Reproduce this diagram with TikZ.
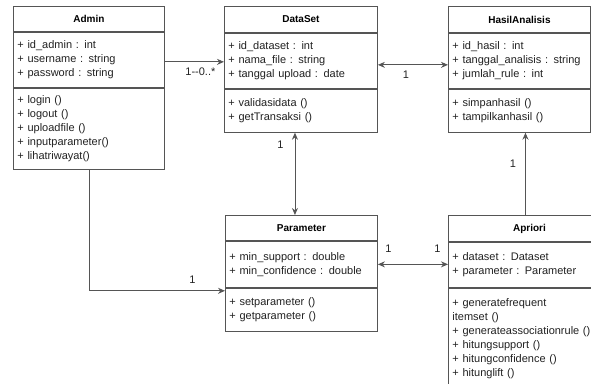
\documentclass[tikz,border=0pt]{standalone}
\usepackage{fontspec}
\setmainfont{Liberation Sans}
\usetikzlibrary{positioning, arrows.meta}

\definecolor{linegray}{HTML}{555555}
\definecolor{textgray}{HTML}{222222}

\tikzset{
  classtitle/.style 2 args={draw=linegray, fill=white, minimum width=#1, minimum height=#2,
    inner sep=0pt, font=\bfseries, text=black, anchor=north west},
  classpart/.style 2 args={draw=linegray, fill=white, text width=#1-8pt, inner xsep=4pt,
    inner ysep=0pt, minimum height=#2, align=left, text=textgray},
  mult/.style={text=textgray, inner sep=1pt},
}

\begin{document}
\begin{tikzpicture}[x=1pt,y=-1pt,line width=0.9pt,>={Stealth[length=7pt,width=6pt]},
  font=\fontsize{11}{14}\selectfont]

    \clip (0,0) rectangle (591,383);

    % Admin
    \node[classtitle={151pt}{25pt}] (admin) at (13,6) {Admin};
    \node[classpart={151pt}{55pt}, below=0pt of admin] (adminattr)
      {+ id\_admin : int\\+ username : string\\+ password : string};
    \node[classpart={151pt}{81pt}, below=0pt of adminattr] (adminmeth)
      {+ login ()\\+ logout ()\\+ uploadfile ()\\+ inputparameter()\\+ lihatriwayat()};

    % DataSet
    \node[classtitle={153pt}{26pt}] (dataset) at (224,6) {DataSet};
    \node[classpart={153pt}{55pt}, below=0pt of dataset] (dsattr)
      {+ id\_dataset : int\\+ nama\_file : string\\+ tanggal upload : date};
    \node[classpart={153pt}{43pt}, below=0pt of dsattr] (dsmeth)
      {+ validasidata ()\\+ getTransaksi ()};

    % HasilAnalisis
    \node[classtitle={142pt}{26pt}] (hasil) at (448,6) {HasilAnalisis};
    \node[classpart={142pt}{55pt}, below=0pt of hasil] (hasilattr)
      {+ id\_hasil : int\\+ tanggal\_analisis : string\\+ jumlah\_rule : int};
    \node[classpart={142pt}{43pt}, below=0pt of hasilattr] (hasilmeth)
      {+ simpanhasil ()\\+ tampilkanhasil ()};

    % Parameter
    \node[classtitle={152pt}{25pt}] (param) at (225,215) {Parameter};
    \node[classpart={152pt}{46pt}, below=0pt of param] (paramattr)
      {+ min\_support : double\\+ min\_confidence : double};
    \node[classpart={152pt}{43pt}, below=0pt of paramattr] (parammeth)
      {+ setparameter ()\\+ getparameter ()};

    % Apriori
    \node[classtitle={162pt}{26pt}] (apriori) at (448,215) {Apriori};
    \node[classpart={162pt}{45pt}, below=0pt of apriori] (aprattr)
      {+ dataset : Dataset\\+ parameter : Parameter};
    \node[classpart={162pt}{100pt}, below=0pt of aprattr] (aprmeth)
      {+ generatefrequent\\itemset ()\\+ generateassociationrule ()\\+ hitungsupport ()\\+ hitungconfidence ()\\+ hitunglift ()};

    % relations
    \draw[linegray, ->] ([yshift=-2pt]adminattr.east) -- ([yshift=-2pt]adminattr.east -| dsattr.west)
      node [mult, pos=0.6, below = 5pt]{1-{}-0..*};
    \draw[linegray, <->] ([yshift=-4pt]dsattr.east) -- ([yshift=-4pt]dsattr.east -| hasilattr.west)
      node [mult, pos=0.4, below = 5pt]{1};
    \draw[linegray, <->] ([xshift=-6pt]dsmeth.south) -- ([xshift=-6pt]dsmeth.south |- param.north)
      node [mult, pos=0.15, left = 10pt]{1};
    \draw[linegray, ->] (adminmeth.south) |- ([yshift=-3pt]paramattr.south west)
      node [mult, pos=0.88, above = 6pt]{1};
    \draw[linegray, <->] (paramattr.east) -- (paramattr.east -| aprattr.west)
      node [mult, pos=0.15, above = 10pt]{1}
      node [mult, pos=0.85, above = 10pt]{1};
    \draw[linegray, ->] ([xshift=6pt]hasilmeth.south |- apriori.north) -- ([xshift=6pt]hasilmeth.south)
      node [mult, pos=0.62, left = 8pt]{1};

\end{tikzpicture}
\end{document}
